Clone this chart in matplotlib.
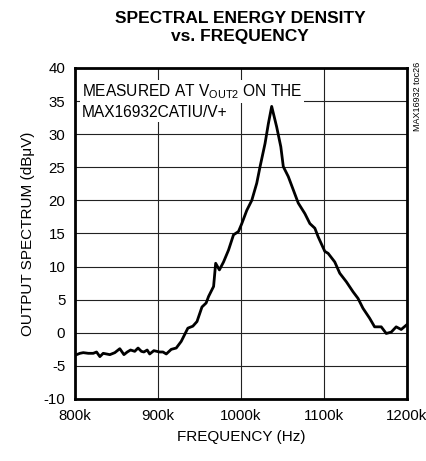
import matplotlib
matplotlib.use("Agg")
import matplotlib.pyplot as plt

plt.rcParams['font.family'] = ['Liberation Sans', 'DejaVu Sans']
plt.rcParams['axes.unicode_minus'] = False

# frequency in kHz, output spectrum in dBuV
freqK = [801, 806, 810, 816, 822, 826, 830, 834, 838, 842, 848, 854, 859, 863, 867, 872, 876,
         880, 883, 887, 890, 895, 902, 906, 910, 916, 922, 928, 932, 936, 942, 947, 953, 958,
         961, 967, 969.5, 974, 979, 985, 991, 997, 1001, 1007, 1013, 1019, 1023, 1029, 1033,
         1037, 1043, 1048, 1051, 1057, 1063, 1069, 1077, 1083, 1089, 1093, 1101, 1105, 1113,
         1119, 1127, 1135, 1141, 1147, 1155, 1161, 1169, 1175, 1181, 1187, 1193, 1199.6]
spectrum = [-3.35, -3.1, -3.0, -3.1, -3.1, -2.9, -3.6, -3.1, -3.2, -3.3, -3.0, -2.4, -3.3, -2.9,
            -2.6, -2.8, -2.3, -2.8, -2.9, -2.6, -3.2, -2.7, -2.9, -2.9, -3.2, -2.5, -2.3, -1.3,
            -0.3, 0.7, 1.0, 1.7, 3.9, 4.5, 5.5, 7.0, 10.5, 9.5, 10.7, 12.5, 14.8, 15.3, 16.5,
            18.5, 20.0, 22.6, 25.1, 28.6, 31.6, 34.2, 31.1, 28.1, 25.1, 23.6, 21.6, 19.6, 18.0,
            16.5, 15.8, 14.5, 12.3, 12.0, 10.7, 9.0, 7.7, 6.2, 5.2, 3.7, 2.2, 0.9, 0.9, -0.1,
            0.1, 0.9, 0.5, 1.2]
xTicks = [800, 900, 1000, 1100, 1200]
xLabels = ['800k', '900k', '1000k', '1100k', '1200k']
yTicks = [-10, -5, 0, 5, 10, 15, 20, 25, 30, 35, 40]

fig = plt.figure(figsize=(4.27, 4.61), dpi=100)
ax = fig.add_axes([0.1756, 0.1345, 0.7775, 0.718])

ax.plot([f * 1000 for f in freqK], spectrum, color='black', lw=2.0, zorder=3)

ax.set_xlim(800000, 1200000)
ax.set_ylim(-10, 40)
ax.set_xticks([t * 1000 for t in xTicks])
ax.set_xticklabels(xLabels)
ax.set_yticks(yTicks)
ax.tick_params(length=0, labelsize=10.8, pad=7)
ax.grid(True, color='#222222', lw=0.8)
for s in ax.spines.values():
    s.set_linewidth(2.0)

ax.set_xlabel('FREQUENCY (Hz)', fontsize=11, labelpad=5)
ax.set_ylabel('OUTPUT SPECTRUM (dB\u03bcV)', fontsize=11, labelpad=6)

fig.text(0.562, 0.977, 'SPECTRAL ENERGY DENSITY\nvs. FREQUENCY', ha='center', va='top',
         fontsize=12.5, fontweight='bold', linespacing=1.3)

ax.text(0.02, 0.958, 'MEASURED AT V$_{\\mathregular{OUT2}}$ ON THE', transform=ax.transAxes,
        fontsize=11.2, va='top', ha='left', zorder=4,
        bbox=dict(facecolor='white', edgecolor='none', pad=1.5))
ax.text(0.02, 0.888, 'MAX16932CATIU/V+', transform=ax.transAxes,
        fontsize=11.2, va='top', ha='left', zorder=4,
        bbox=dict(facecolor='white', edgecolor='none', pad=1.5))

fig.text(0.978, 0.865, 'MAX16932 toc26', rotation=90, ha='center', va='top', fontsize=6.5)

fig.savefig('out.png', dpi=100)
